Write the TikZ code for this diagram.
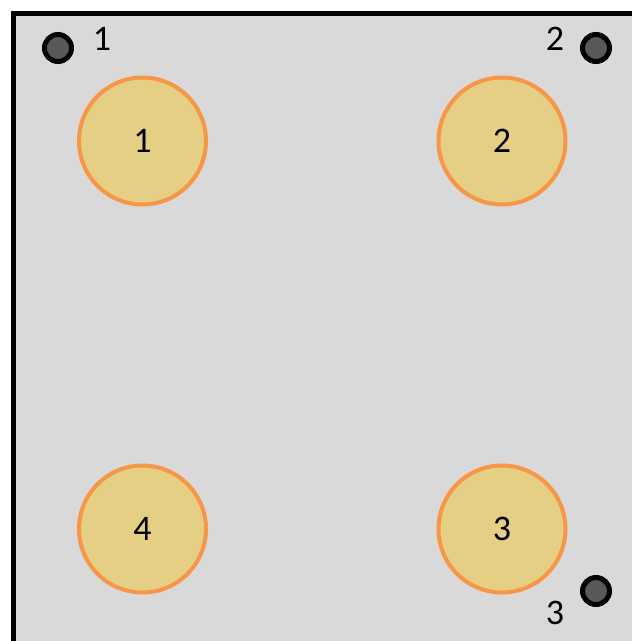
\documentclass[tikz,border=0pt]{standalone}
\usepackage{fontspec}
\setmainfont{Carlito}
\definecolor{bggray}{HTML}{D9D9D9}
\definecolor{padfill}{HTML}{E4CF85}
\definecolor{padline}{HTML}{F79646}
\definecolor{dotfill}{HTML}{595959}
\tikzset{
  pad/.style={circle, draw=padline, fill=padfill, line width=4pt, minimum size=127pt, inner sep=0pt, font=\fontsize{36}{42}\selectfont},
  marker/.style={circle, draw=black, fill=dotfill, line width=5pt, minimum size=27pt, inner sep=0pt},
  lbl/.style={font=\fontsize{36}{42}\selectfont, inner sep=0pt}
}
\begin{document}
\begin{tikzpicture}[x=1pt,y=-1pt]
\useasboundingbox (0,0) rectangle (632,641);
\clip (0,0) rectangle (632,641);
\fill[bggray] (13,13) rectangle (660,670);
\draw[line width=5pt] (13,670) -- (13,13) -- (660,13);
\node[pad] (p1) at (142.5,141) {1};
\node[pad] (p2) at (502,141) {2};
\node[pad] (p3) at (502,529) {3};
\node[pad] (p4) at (142.5,529) {4};
\node[marker] (m1) at (58,48) {};
\node[marker] (m2) at (596,48) {};
\node[marker] (m3) at (596,591) {};
\node[lbl] (l1) at (102,39) {1};
\node[lbl] (l2) at (555,39) {2};
\node[lbl] (l3) at (555,613) {3};
\end{tikzpicture}
\end{document}
